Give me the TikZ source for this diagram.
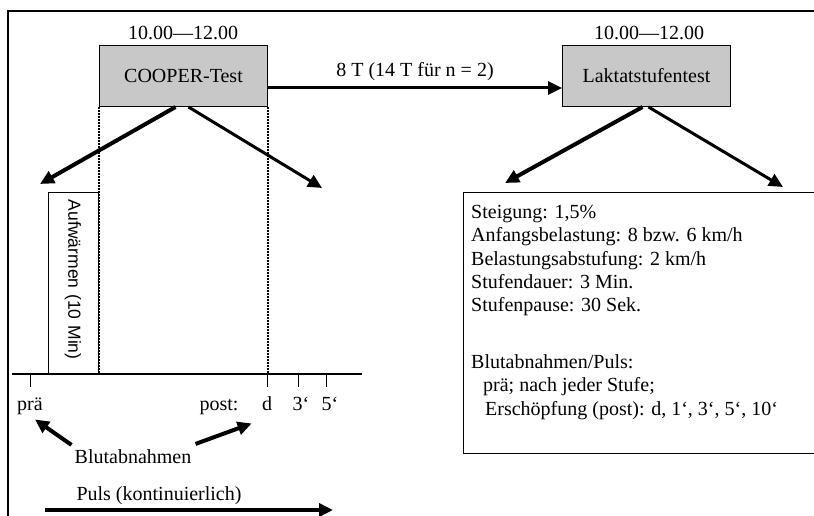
\documentclass[tikz,border=0pt]{standalone}
\usepackage{fontspec}
\setmainfont{Liberation Serif}
\setsansfont{Liberation Sans}
\usetikzlibrary{arrows.meta, positioning}
\definecolor{boxgrau}{RGB}{200,200,200}

\begin{document}
\begin{tikzpicture}[
        x=1pt, y=-1pt,
        every node/.style={font=\fontsize{20pt}{23.3pt}\selectfont},
        test/.style={
            rectangle,
            draw,
            line width=1pt,
            fill=boxgrau,
            minimum width=168pt,
            minimum height=61pt,
            inner sep=0pt
        },
        txt/.style={
            anchor=base,
            inner sep=0pt
        },
        kasten/.style={
            rectangle,
            draw,
            line width=1pt,
            inner sep=0pt
        },
        pfeil/.style={
            -{Triangle[length=14pt,width=13pt]},
            line width=3pt
        },
        dickpfeil/.style={
            pfeil,
            line width=4pt
        },
        hilfslinie/.style={
            dash pattern=on 2pt off 1pt,
            line width=1.6pt
        }
    ]

    \useasboundingbox (0,0) rectangle (814,516);

    % Rahmen
    \draw[line width=1.2pt] (8,516) -- (8,11) -- (814,11);

    % Tests
    \node[test] (cooper) at (183.5,76) {COOPER-Test};
    \node[test] (laktat) at (646.5,76) {Laktatstufentest};

    \node[txt] (cooperzeit) at (183,40) {10.00—12.00};
    \node[txt] (laktatzeit) at (649,40) {10.00—12.00};

    \draw[pfeil] ([yshift=-12pt]cooper.east) -- node[txt, yshift=11pt] (abstand) {8 T (14 T für n = 2)} ([yshift=-12pt]laktat.west);

    % Verzweigungen
    \coordinate (cooperlinks) at (40,184);
    \coordinate (cooperrechts) at (322,188);
    \coordinate (laktatlinks) at (505,183);
    \coordinate (laktatrechts) at (783,187);

    \draw[hilfslinie] (cooper.south west) -- (cooper.south west |- 0,374);
    \draw[hilfslinie] (cooper.south east) -- (cooper.south east |- 0,374);

    \draw[dickpfeil] ([xshift=-8pt]cooper.south) -- (cooperlinks);
    \draw[pfeil] ([xshift=5pt]cooper.south) -- (cooperrechts);
    \draw[dickpfeil] ([xshift=-4pt]laktat.south) -- (laktatlinks);
    \draw[pfeil] ([xshift=2pt]laktat.south) -- (laktatrechts);

    % Zeitachse
    \coordinate (achseanfang) at (12,374);
    \coordinate (achseende) at (362,374);
    \draw[line width=1.2pt] (achseanfang) -- (achseende);
    \foreach \x in {30,267,298,326}
        \draw[line width=1pt] (\x,374) -- (\x,387);

    \node[kasten, rotate=-90, minimum width=182pt, minimum height=50pt,
          inner xsep=8pt, text width=166pt, align=left,
          font=\sffamily\fontsize{17.5pt}{20pt}\selectfont] (aufwaermen) at (73,283) {Aufwärmen (10 Min)};

    % Messzeitpunkte
    \node[txt] (prae) at (30,410) {prä};
    \node[txt] (post) at (219,410) {post:};
    \node[txt] (d) at (267,410) {d};
    \node[txt] (drei) at (301,410) {3‘};
    \node[txt] (fuenf) at (330,410) {5‘};

    \node[txt] (blut) at (133,463) {Blutabnahmen};
    \draw[dickpfeil] ([shift={(-3pt,4pt)}]blut.north west) -- ([shift={(5pt,-5pt)}]prae.south);
    \draw[dickpfeil] ([shift={(4pt,5pt)}]blut.north east) -- ([shift={(13pt,-9pt)}]post.south east);

    \node[txt] (puls) at (159,500) {Puls (kontinuierlich)};
    \coordinate (pulsanfang) at (45,510);
    \coordinate (pulsende) at (333,510);
    \draw[dickpfeil] (pulsanfang) -- (pulsende);

    % Protokoll Laktatstufentest
    \node[kasten, anchor=north west, minimum width=352pt, minimum height=261pt] (info) at (463,192) {};
    \node[anchor=north west, align=left, inner sep=0pt] (infotext) at (471,205) {
        Steigung: 1,5\%\\
        Anfangsbelastung: 8 bzw. 6 km/h\\
        Belastungsabstufung: 2 km/h\\
        Stufendauer: 3 Min.\\
        Stufenpause: 30 Sek.\\[33.5pt]
        Blutabnahmen/Puls:\\
        \hspace*{12pt}prä; nach jeder Stufe;\\
        \hspace*{14pt}Erschöpfung (post): d, 1‘, 3‘, 5‘, 10‘
    };

\end{tikzpicture}
\end{document}
